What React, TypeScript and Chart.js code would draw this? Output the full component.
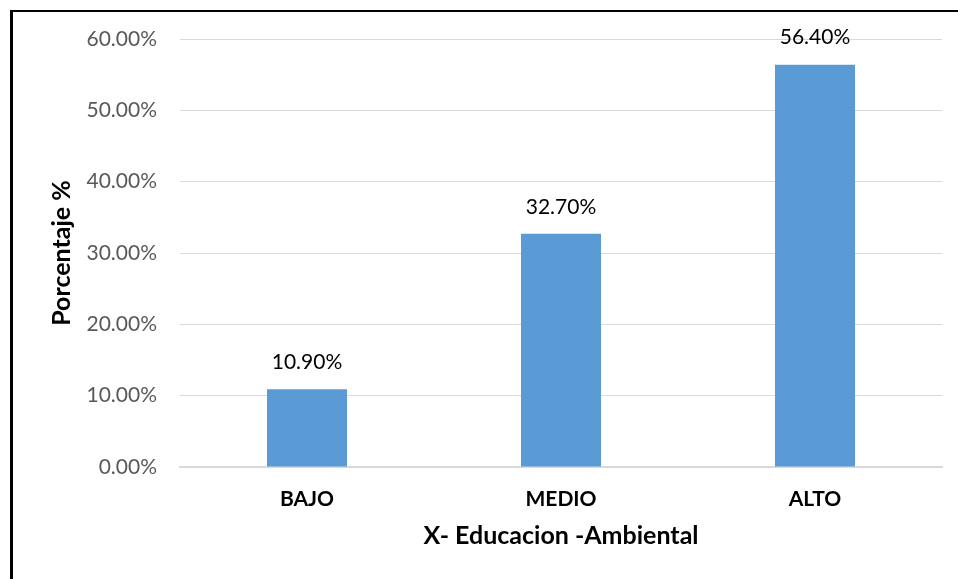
import React, { useEffect, useRef } from "react";
import { Chart, registerables } from "chart.js";

Chart.register(...registerables);

const categories = ["BAJO", "MEDIO", "ALTO"];
const values = [10.9, 32.7, 56.4];
const dataLabels = ["10.90%", "32.70%", "56.40%"];
const yTicks = [0, 10, 20, 30, 40, 50, 60];

const FONT = "Lato, 'Open Sans', sans-serif";

const valueLabelPlugin = {
  id: "valueLabels",
  afterDatasetsDraw(chart: any) {
    const ctx = chart.ctx;
    const meta = chart.getDatasetMeta(0);
    ctx.save();
    ctx.font = `21px ${FONT}`;
    ctx.fillStyle = "#000000";
    ctx.textAlign = "center";
    ctx.textBaseline = "middle";
    meta.data.forEach((bar: any, i: number) => {
      ctx.fillText(dataLabels[i], bar.x, bar.y - 27);
    });
    ctx.restore();
  },
};

export default function App() {
  const ref = useRef<HTMLCanvasElement | null>(null);
  useEffect(() => {
    if (!ref.current) return;
    const chart = new Chart(ref.current, {
      type: "bar",
      data: {
        labels: categories,
        datasets: [
          {
            data: values,
            backgroundColor: "#5b9bd5",
            borderWidth: 0,
            categoryPercentage: 0.315,
            barPercentage: 1,
          },
        ],
      },
      options: {
        animation: false,
        responsive: false,
        maintainAspectRatio: false,
        layout: { padding: { left: 0, right: 16, top: 39, bottom: 0 } },
        plugins: {
          legend: { display: false },
          tooltip: { enabled: false },
        },
        scales: {
          x: {
            grid: { display: false, drawTicks: false },
            border: { display: true, color: "#d9d9d9", width: 2 },
            ticks: {
              color: "#000000",
              font: { family: FONT, size: 21, weight: "bold" },
              padding: 20,
            },
            title: {
              display: true,
              text: "X- Educacion -Ambiental",
              color: "#000000",
              font: { family: FONT, size: 25, weight: "bold" },
              padding: { top: 0, bottom: 28 },
            },
            afterFit(scale: any) {
              scale.height = 112;
            },
          },
          y: {
            min: 0,
            max: 60,
            afterBuildTicks(scale: any) {
              scale.ticks = yTicks.map((v) => ({ value: v }));
            },
            grid: { color: "#d9d9d9", lineWidth: 1, drawTicks: false },
            border: { display: false },
            ticks: {
              color: "#595959",
              font: { family: FONT, size: 21 },
              padding: 23,
              callback: (v: any) => Number(v).toFixed(2) + "%",
            },
            title: {
              display: true,
              text: "Porcentaje %",
              color: "#000000",
              font: { family: FONT, size: 25, weight: "bold" },
              padding: { top: 47, bottom: 0 },
            },
            afterFit(scale: any) {
              scale.width = 180;
            },
          },
        },
      },
      plugins: [valueLabelPlugin],
    });
    return () => chart.destroy();
  }, []);

  return (
    <div
      style={{
        position: "fixed",
        left: 0,
        top: 0,
        width: 958,
        height: 579,
        background: "#ffffff",
      }}
    >
      <canvas
        ref={ref}
        width={958}
        height={579}
        style={{ position: "absolute", left: 0, top: 0, width: 958, height: 579 }}
      />
      <div
        style={{
          position: "absolute",
          left: 10,
          top: 10,
          right: 0,
          bottom: 0,
          borderLeft: "3px solid #000",
          borderTop: "2px solid #000",
          pointerEvents: "none",
        }}
      />
    </div>
  );
}
